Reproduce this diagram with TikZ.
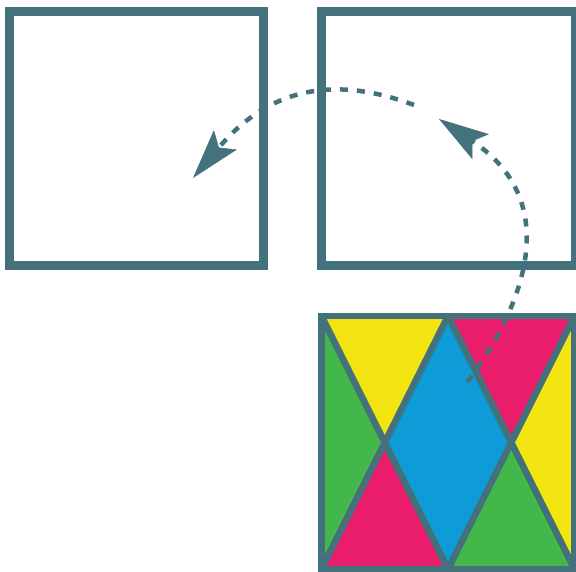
\documentclass[tikz,border=0pt]{standalone}
\usepackage{xcolor}
\usetikzlibrary{arrows.meta,calc}

\definecolor{slate}{RGB}{67,113,124}
\definecolor{sun}{RGB}{242,228,16}
\definecolor{rose}{RGB}{233,29,107}
\definecolor{sky}{RGB}{14,156,216}
\definecolor{leaf}{RGB}{68,183,75}

\begin{document}
\begin{tikzpicture}[x=1pt, y=-1pt,
    frame/.style={draw=slate, line width=9pt, minimum size=254pt, inner sep=0pt, outer sep=0pt},
    tile/.style={minimum size=253pt, inner sep=0pt, outer sep=0pt},
    piece/.style={draw=slate, line width=6.5pt, line join=round},
    move/.style={draw=slate, line width=4.5pt, dash pattern=on 8pt off 9pt,
        -{Stealth[length=50pt, width=30pt, inset=10pt, line width=0.5pt]}}]

    \useasboundingbox (0,0) rectangle (576,571);

    \node[frame] (empty) at (136,138) {};
    \node[frame] (turned) at (448,138) {};
    \node[tile] (pattern) at (448,442.5) {};

    \coordinate (xl) at ($(pattern.west)!0.5!(pattern.center)$);
    \coordinate (xr) at ($(pattern.east)!0.5!(pattern.center)$);

    % left half
    \fill[sun] (pattern.north west) -- (pattern.north) -- (xl) -- cycle;
    \fill[leaf] (pattern.north west) -- (xl) -- (pattern.south west) -- cycle;
    \fill[rose] (pattern.south west) -- (xl) -- (pattern.south) -- cycle;
    % middle
    \fill[sky] (pattern.north) -- (xr) -- (pattern.south) -- (xl) -- cycle;
    % right half
    \fill[rose] (pattern.north) -- (pattern.north east) -- (xr) -- cycle;
    \fill[sun] (pattern.north east) -- (pattern.south east) -- (xr) -- cycle;
    \fill[leaf] (pattern.south) -- (xr) -- (pattern.south east) -- cycle;

    \draw[piece] (pattern.north west) -- (pattern.south) -- (pattern.north east);
    \draw[piece] (pattern.south west) -- (pattern.north) -- (pattern.south east);
    \draw[piece, line join=miter] (pattern.north west) rectangle (pattern.south east);

    \coordinate (lift) at (467,382);
    \coordinate (hop) at (439,119);
    \coordinate (swing) at (414,105);
    \coordinate (land) at (193,178);

    \draw[move] (lift) .. controls (516,318) and (570,206) .. (hop);
    \draw[move] (swing) .. controls (347,80) and (277,79) .. (land);

\end{tikzpicture}
\end{document}
